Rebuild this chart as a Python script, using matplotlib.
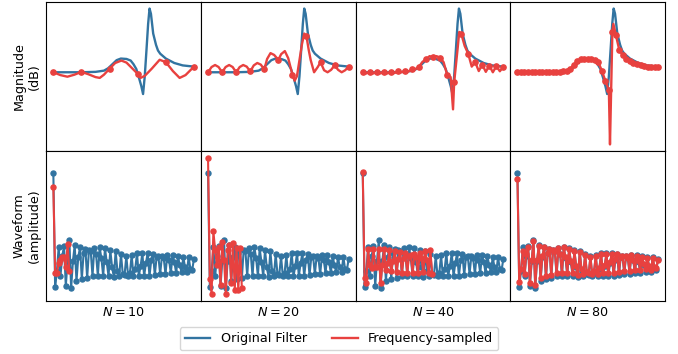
import numpy as np
import matplotlib.pyplot as plt

plt.rcParams['font.size'] = 9.2

# --- Data (frequency in cycles/sample, magnitude in dB) ---
orig_freq = [0, .10, .15, .18, .195, .21, .225, .24, .26, .275, .285, .295, .305, .313,
             .319, .325, .331, .337, .342, .347, .355, .365, .372, .38, .40, .43, .46, .5]
orig_db = [0, 0, .1, .4, 1.0, 2.0, 3.0, 3.4, 3.3, 2.9, 2.0, .8, -1.5, -3.5,
           -5.4, -1.0, 5.4, 12.0, 15.8, 14.5, 9.6, 6.8, 5.4, 4.6, 3.4, 2.3, 1.7, 1.4]

# original impulse response (80 samples)
orig_wave = [.94, -.21, -.05, .19, -.10, .10, .20, -.20, .05, .26,
             -.22, .05, .21, -.15, .09, .19, -.13, .13, .17, -.12,
             .16, .15, -.10, .18, .12, -.10, .19, .08, -.10, .18,
             .04, -.10, .16, -.01, -.11, .15, -.05, -.10, .12, -.08,
             -.09, .10, -.10, -.07, .11, -.10, -.03, .13, -.10, .00,
             .13, -.10, .03, .13, -.10, .06, .12, -.09, .09, .10,
             -.08, .10, .08, -.08, .11, .06, -.07, .11, .04, -.07,
             .10, .01, -.06, .09, -.01, -.06, .09, -.03, -.04, .075]

# N = 10
fs10_freq = [0, .025, .05, .075, .1, .125, .15, .165, .18, .2, .22, .242, .26, .28,
             .3, .31, .325, .35, .378, .4, .425, .449, .47, .5]
fs10_db = [0, -.7, -1.1, -.6, .1, -.5, -1.2, -1.4, -.6, .9, 2.3, 2.9, 2.4, 1.0,
           -.4, -1.4, -.9, .9, 3.1, 2.5, .3, -1.4, -.7, 1.4]
dots10_db = [0, .1, .9, -.4, 2.5, 1.4]
wave10 = [.80, -.07, -.07, .03, .06, .09, .09, -.01, .22, -.05]

# N = 20
fs20_freq = [0, .0125, .025, .0375, .05, .0625, .075, .0875, .1, .1125, .125, .1375,
             .15, .1625, .175, .1875, .2, .21, .222, .235, .25, .26, .273, .285, .3,
             .308, .316, .325, .334, .342, .35, .358, .365, .377, .39, .4, .4125,
             .425, .4375, .45, .4625, .475, .4875, .5]
fs20_db = [0, 1.3, 1.8, 1.3, 0, 1.3, 1.8, 1.3, 0, 1.3, 1.8, 1.4,
           .2, 1.7, 2.3, 1.9, .7, 3.3, 4.75, 4.3, 3.1, 4.5, 5.25, 3.5, -.6,
           -2.1, -1.0, 3.0, 7.0, 9.6, 8.9, 5.5, 3.0, 0, 1.3, 2.5, .5,
           0, .6, 1.7, .6, 0, .5, 1.4]
dots20_db = [0, 0, 0, .2, .7, 3.1, -.6, 8.9, 2.5, 1.7, 1.4]
wave20 = [1.09, -.13, -.28, .35, .16, .01, .19, -.19, .24, .06,
          -.28, .16, .21, -.17, .23, -.24, .18, -.24, .18, -.22]

# N = 40 (curve on a 0.0125 grid, plus the sharp extremes between grid points)
fs40_grid_db = [0, -.3, .1, -.3, .1, -.3, .1, -.3, .1, -.2,
                .2, 0, .3, .2, .7, .8, 1.4, 2.6, 3.2, 4.0,
                3.8, 4.0, 3.6, 2.5, -.6, -1.2, -2.5, 6.0, 9.6, 6.5,
                4.6, 1.4, 2.5, .3, 1.9, .1, 1.67, 0, 1.5, .25, 1.42]
fs40_extra_freq = [.321, .343]
fs40_extra_db = [-9.2, 10.0]
dots40_db = [0, .1, .1, .1, .1, .2, .3, .7, 1.4, 3.2,
             3.8, 3.6, -.6, -2.5, 9.6, 4.6, 2.5, 1.9, 1.67, 1.5, 1.42]
wave40 = [.95, -.12, -.17, .17, .01, -.02, .17, -.01, -.01, .17,
          -.17, .01, .17, -.04, .03, .16, -.05, .05, .15, -.06,
          .07, .14, -.07, .08, .13, -.07, .10, .11, -.07, .12,
          .09, -.07, .13, .08, -.06, .15, .06, -.07, .16, -.08]

# N = 80
dots80_db = [0, .1, .1, .1, .1, .1, .1, .1, .1, .1,
             .1, .1, .1, .2, .3, .8, 1.8, 2.7, 3.2, 3.3,
             3.3, 3.3, 3.1, 2.5, .4, -2.1, -4.5, 10.0, 9.2, 5.4,
             4.2, 3.35, 2.75, 2.35, 2.1, 1.75, 1.6, 1.4, 1.35, 1.25, 1.25]
fs80_extra_freq = [.329, .341]
fs80_extra_db = [-17.9, 12.0]
wave80 = [.88, -.16, -.03, .15, -.08, .12, .19, -.17, .06, .25,
          -.19, .06, .20, -.12, .10, .19, -.10, .13, .17, -.09,
          .16, .15, -.07, .18, .12, -.07, .19, .09, -.07, .17,
          .05, -.07, .15, .00, -.09, .14, -.03, -.08, .11, -.06,
          -.07, .09, -.08, -.05, .10, -.08, -.02, .12, -.07, .01,
          .12, -.07, .04, .12, -.07, .07, .12, -.06, .09, .10,
          -.05, .10, .08, -.05, .11, .06, -.04, .10, .05, -.04,
          .09, .02, -.03, .08, .00, -.04, .08, -.01, -.02, .065]

sizes = [10, 20, 40, 80]

blue = '#3274a1'
red = '#e8413f'


def merged(freq_a, db_a, freq_b, db_b):
    f = np.concatenate([freq_a, freq_b])
    d = np.concatenate([db_a, db_b])
    order = np.argsort(f)
    return f[order], d[order]


grid40 = np.arange(len(fs40_grid_db)) * 0.0125
dots80_freq = np.arange(len(dots80_db)) / 80
curves = {
    10: (np.array(fs10_freq), np.array(fs10_db)),
    20: (np.array(fs20_freq), np.array(fs20_db)),
    40: merged(grid40, fs40_grid_db, fs40_extra_freq, fs40_extra_db),
    80: merged(dots80_freq, dots80_db, fs80_extra_freq, fs80_extra_db),
}
dots = {10: dots10_db, 20: dots20_db, 40: dots40_db, 80: dots80_db}
waves = {10: wave10, 20: wave20, 40: wave40, 80: wave80}

fig, axes = plt.subplots(2, 4, figsize=(6.78, 3.54), dpi=100, sharey='row',
                         gridspec_kw=dict(wspace=0, hspace=0, left=0.0683,
                                          right=0.981, top=0.995, bottom=0.1506))

for col, N in enumerate(sizes):
    ax = axes[0, col]
    ax.plot(orig_freq, orig_db, color=blue, lw=1.7)
    f, d = curves[N]
    ax.plot(f, d, color=red, lw=1.7)
    ax.plot(np.arange(N // 2 + 1) / N, dots[N], 'o', color=red, ms=3.8)

    ax = axes[1, col]
    ax.plot(np.arange(len(orig_wave)), orig_wave, 'o-', color=blue, lw=1.5, ms=3.6)
    ax.plot(np.arange(N), waves[N], 'o-', color=red, lw=1.5, ms=3.6)
    ax.set_xlabel(rf'$N = {N}$')

for ax in axes.flat:
    ax.set_xticks([])
    ax.set_yticks([])

axes[0, 0].set_ylabel('Magnitude\n(dB)')
axes[1, 0].set_ylabel('Waveform\n(amplitude)')

handles = [plt.Line2D([], [], color=blue, lw=1.7), plt.Line2D([], [], color=red, lw=1.7)]
fig.legend(handles, ['Original Filter', 'Frequency-sampled'], loc='lower center',
           ncol=2, bbox_to_anchor=(0.5, -0.008))

fig.savefig('out.png', dpi=100)
